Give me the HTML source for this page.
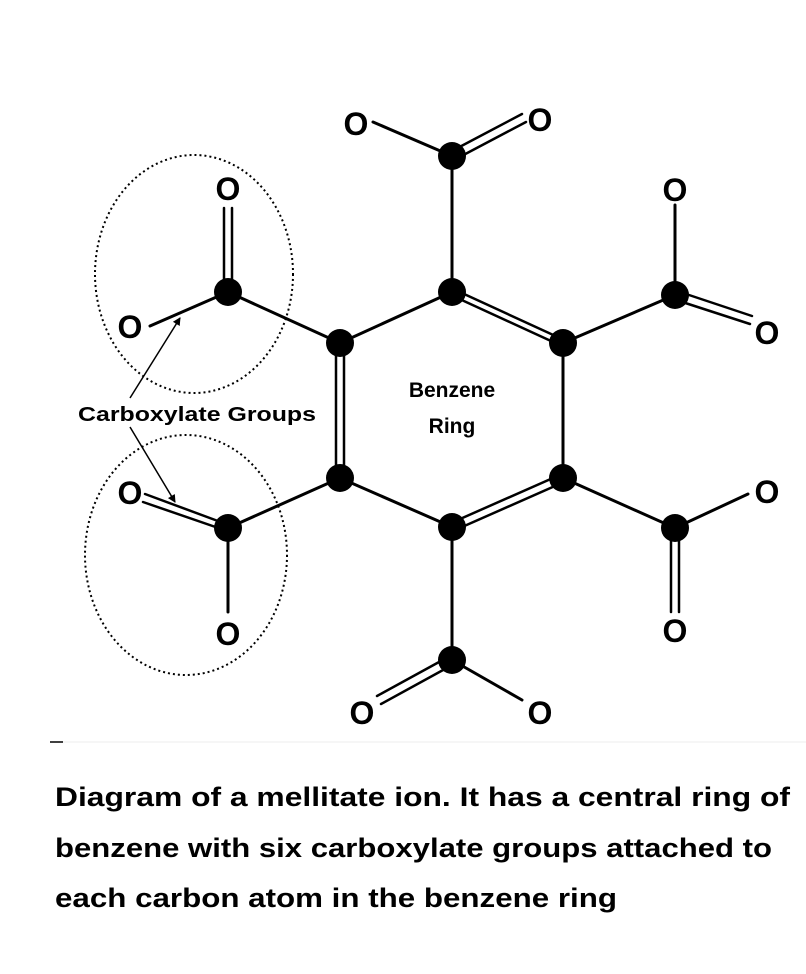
<!DOCTYPE html>
<html><head><meta charset="utf-8"><style>
html,body{margin:0;padding:0;background:#fff;}
svg{display:block;}
text{font-family:"Liberation Sans",sans-serif;font-weight:bold;fill:#000;}
</style></head><body>
<svg width="806" height="974" viewBox="0 0 806 974" xmlns="http://www.w3.org/2000/svg">
<defs><marker id="ah" markerWidth="8" markerHeight="8" refX="7" refY="4" orient="auto" markerUnits="userSpaceOnUse"><path d="M0,0 L8,4 L0,8 z" fill="#000"/></marker></defs>
<g stroke="#000" stroke-width="3" fill="none" stroke-linecap="round">
<line x1="452" y1="292" x2="340" y2="343"/>
<line x1="563" y1="343" x2="563" y2="478"/>
<line x1="340" y1="478" x2="452" y2="527"/>
<line x1="451" y1="288" x2="562" y2="339" stroke-width="2.5"/>
<line x1="453" y1="296" x2="564" y2="347" stroke-width="2.5"/>
<line x1="336" y1="343" x2="336" y2="478" stroke-width="2.5"/>
<line x1="344" y1="343" x2="344" y2="478" stroke-width="2.5"/>
<line x1="451" y1="523" x2="562" y2="474" stroke-width="2.5"/>
<line x1="453" y1="531" x2="564" y2="482" stroke-width="2.5"/>
<line x1="452" y1="292" x2="452" y2="156"/>
<line x1="563" y1="343" x2="675" y2="295"/>
<line x1="563" y1="478" x2="675" y2="528"/>
<line x1="452" y1="527" x2="452" y2="660"/>
<line x1="340" y1="478" x2="228" y2="528"/>
<line x1="340" y1="343" x2="228" y2="292"/>
<line x1="452" y1="156" x2="373" y2="122"/>
<line x1="675" y1="295" x2="675" y2="205"/>
<line x1="675" y1="528" x2="748" y2="494"/>
<line x1="452" y1="660" x2="522" y2="700"/>
<line x1="228" y1="528" x2="228" y2="612"/>
<line x1="228" y1="292" x2="150" y2="326"/>
<g stroke-width="2.5">
<line x1="450" y1="152" x2="522" y2="114"/><line x1="454" y1="160" x2="526" y2="122"/>
<line x1="673" y1="299" x2="750" y2="324"/><line x1="677" y1="291" x2="752" y2="316"/>
<line x1="671" y1="528" x2="671" y2="612"/><line x1="679" y1="528" x2="679" y2="612"/>
<line x1="450" y1="656" x2="377" y2="696"/><line x1="454" y1="664" x2="381" y2="704"/>
<line x1="226" y1="524" x2="145" y2="494"/><line x1="230" y1="532" x2="143" y2="502"/>
<line x1="224" y1="292" x2="224" y2="208"/><line x1="232" y1="292" x2="232" y2="208"/>
</g>
</g>
<g fill="#000">
<circle cx="452" cy="292" r="14"/><circle cx="563" cy="343" r="14"/><circle cx="563" cy="478" r="14"/>
<circle cx="452" cy="527" r="14"/><circle cx="340" cy="478" r="14"/><circle cx="340" cy="343" r="14"/>
<circle cx="452" cy="156" r="14"/><circle cx="675" cy="295" r="14"/><circle cx="675" cy="528" r="14"/>
<circle cx="452" cy="660" r="14"/><circle cx="228" cy="528" r="14"/><circle cx="228" cy="292" r="14"/>
</g>
<g font-size="32" text-anchor="middle">
<text x="356" y="135">O</text><text x="540" y="131">O</text>
<text x="675" y="201">O</text><text x="767" y="344">O</text>
<text x="767" y="503">O</text><text x="675" y="642">O</text>
<text x="540" y="724">O</text><text x="362" y="724">O</text>
<text x="130" y="504">O</text><text x="228" y="645">O</text>
<text x="130" y="338">O</text><text x="228" y="200">O</text>
</g>
<g fill="none" stroke="#000" stroke-width="2" stroke-dasharray="2,3">
<ellipse cx="194" cy="274" rx="99" ry="119"/>
<ellipse cx="186" cy="555" rx="101" ry="120"/>
</g>
<line x1="130" y1="398" x2="180" y2="318" stroke="#000" stroke-width="1.5" marker-end="url(#ah)"/>
<line x1="130" y1="427" x2="175" y2="502" stroke="#000" stroke-width="1.5" marker-end="url(#ah)"/>
<text x="78" y="421" font-size="20" textLength="238" lengthAdjust="spacingAndGlyphs">Carboxylate Groups</text>
<text x="452" y="397" font-size="21" text-anchor="middle">Benzene</text>
<text x="452" y="433" font-size="21" text-anchor="middle">Ring</text>
<line x1="50" y1="742" x2="806" y2="742" stroke="#eee" stroke-width="1"/>
<line x1="50" y1="742" x2="63" y2="742" stroke="#000" stroke-width="1.5"/>
<g font-size="27">
<text x="55" y="806" textLength="735" lengthAdjust="spacingAndGlyphs">Diagram of a mellitate ion.  It has a central ring of</text>
<text x="55" y="857" textLength="717" lengthAdjust="spacingAndGlyphs">benzene with six carboxylate groups attached to</text>
<text x="55" y="907" textLength="562" lengthAdjust="spacingAndGlyphs">each carbon atom in the benzene ring</text>
</g>
</svg>
</body></html>
